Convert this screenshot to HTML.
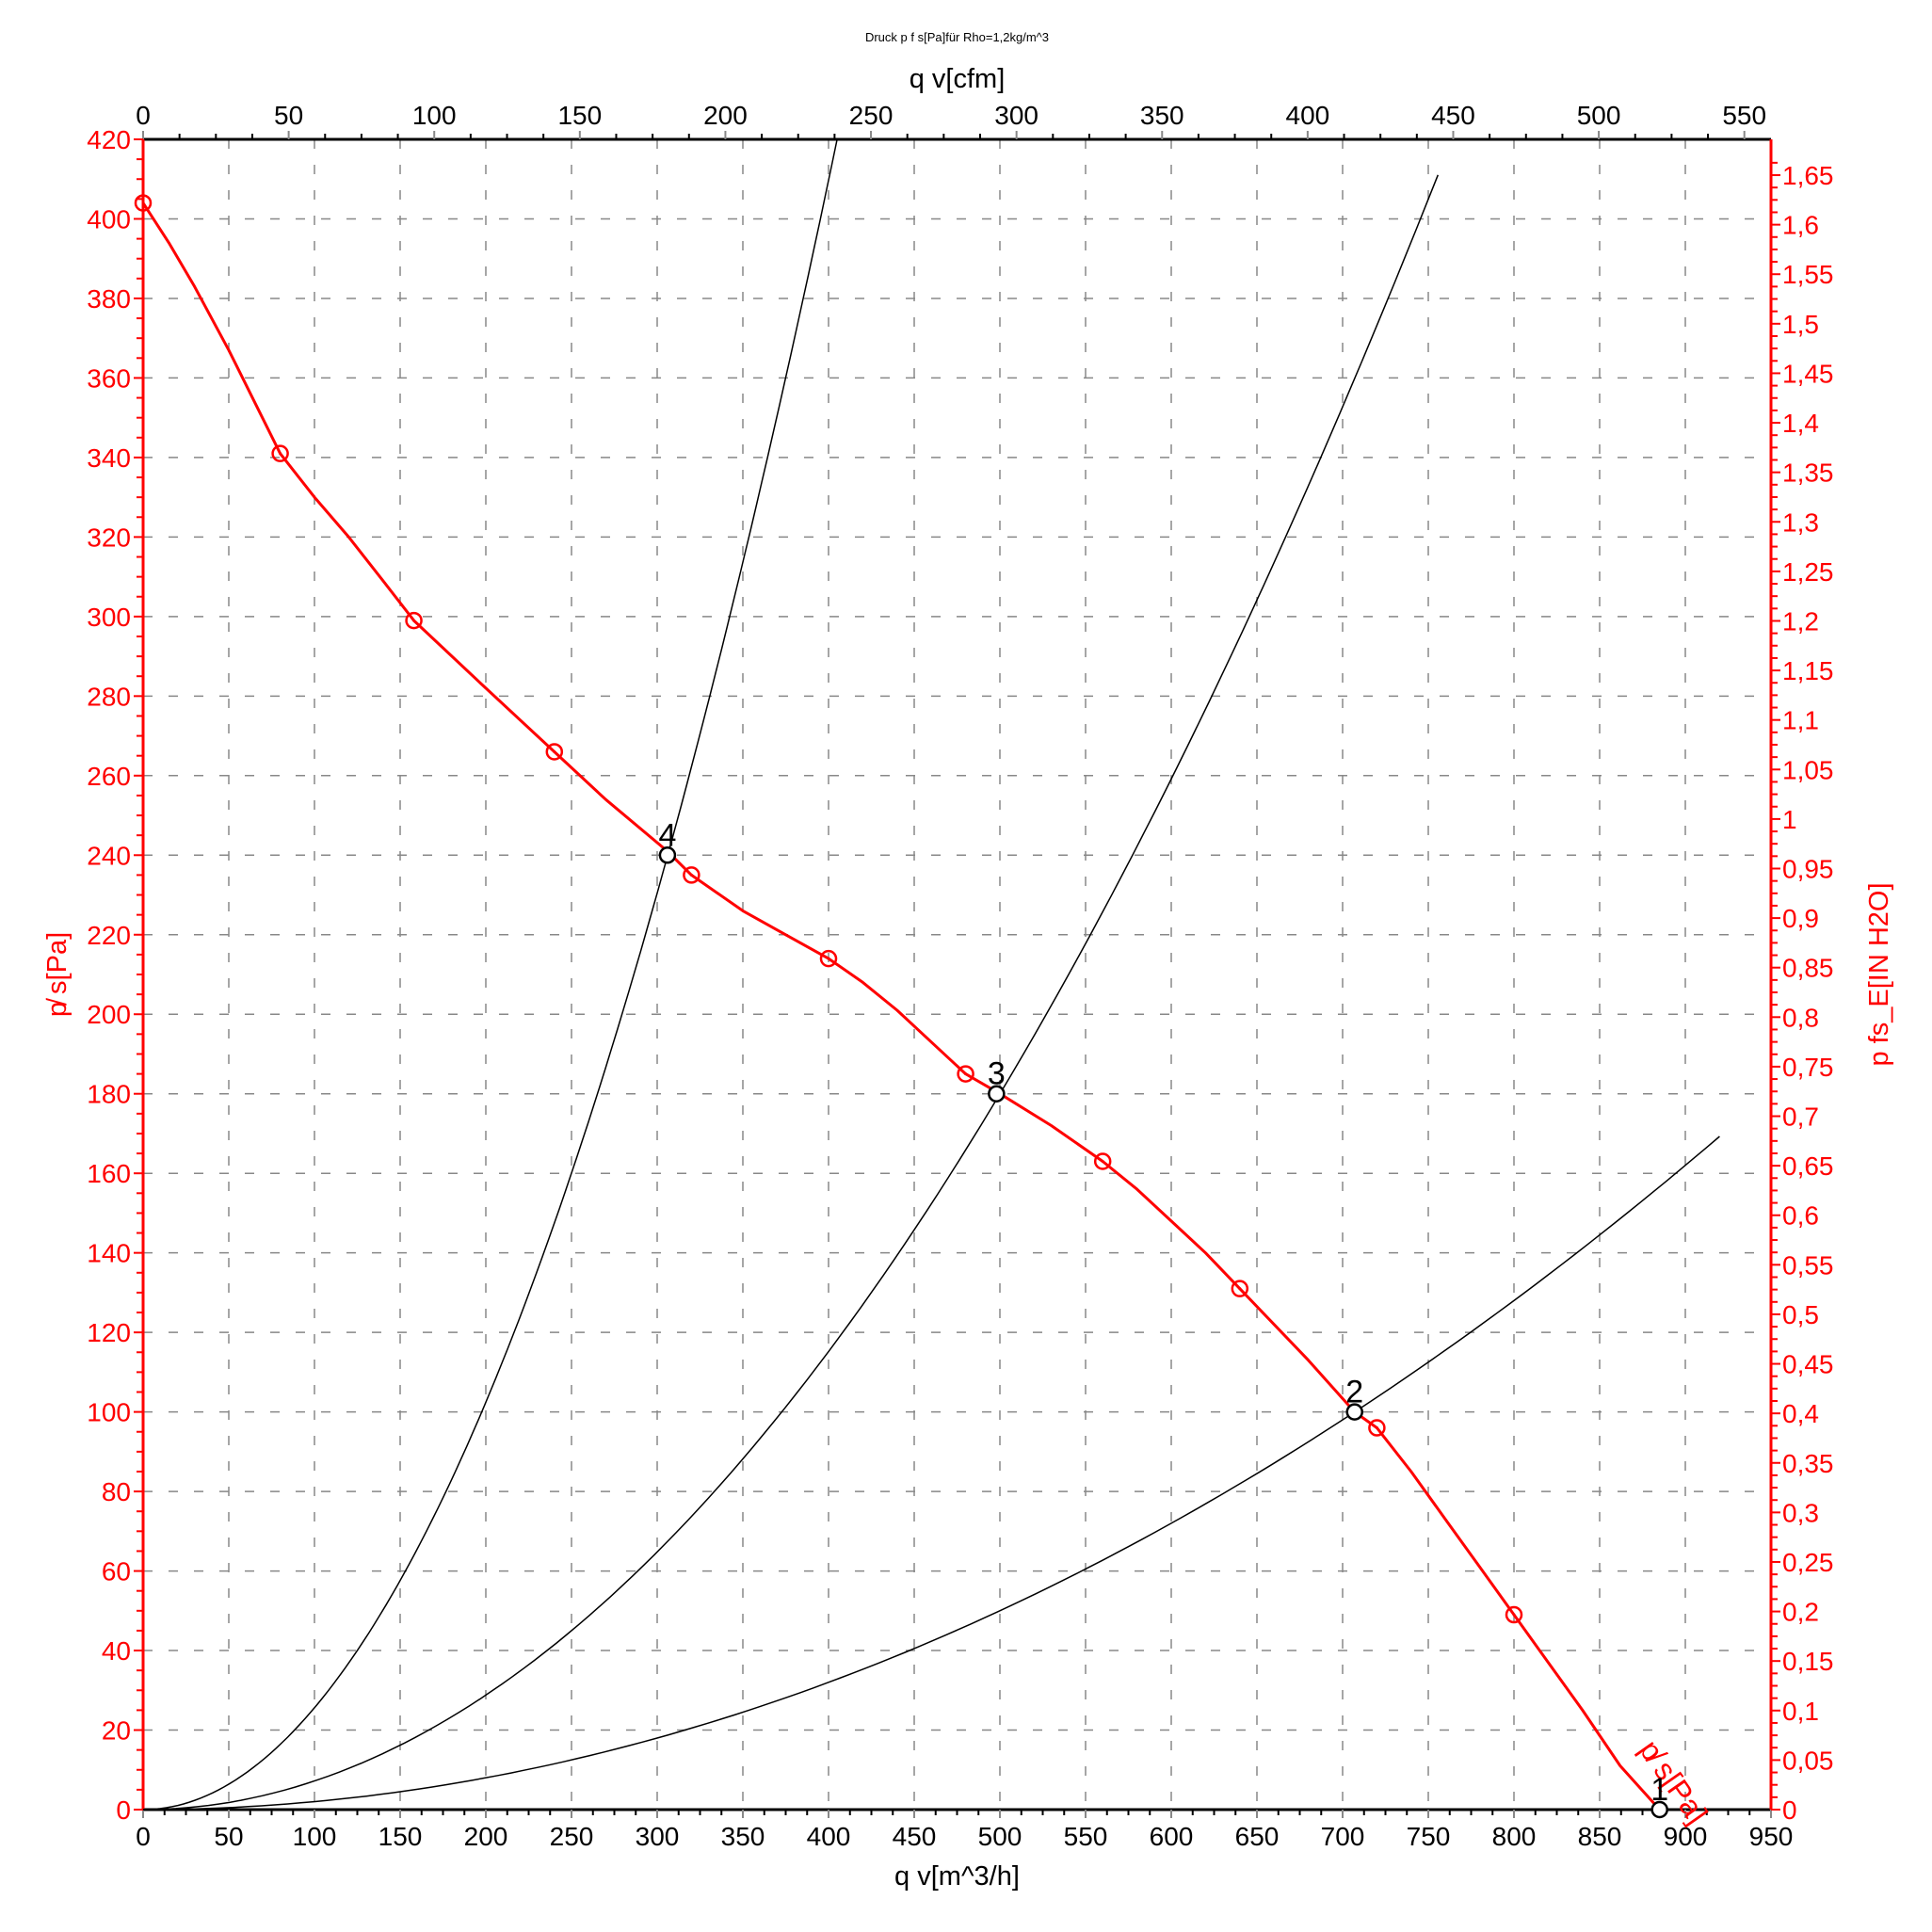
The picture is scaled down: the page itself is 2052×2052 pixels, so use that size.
<!DOCTYPE html>
<html><head><meta charset="utf-8"><style>
html,body{margin:0;padding:0;background:#fff;}
svg{display:block;font-family:"Liberation Sans",sans-serif;}
</style></head><body>
<svg id="s" width="2052" height="2052" viewBox="0 0 2052 2052" xmlns="http://www.w3.org/2000/svg"></svg>
<script>
const L=152,R=1881,T=148,B=1922;
const X=v=>L+v*(R-L)/950, Y=p=>B-p*(B-T)/420;
let o='';
for(let v=50;v<950;v+=50) o+=`<line x1="${X(v)}" y1="${T}" x2="${X(v)}" y2="${B}" stroke="#888" stroke-width="1.5" stroke-dasharray="10,17"/>`;
for(let p=20;p<420;p+=20) o+=`<line x1="${L}" y1="${Y(p)}" x2="${R}" y2="${Y(p)}" stroke="#888" stroke-width="1.5" stroke-dasharray="10,17"/>`;
o+=`<line x1="${L}" y1="${B}" x2="${R}" y2="${B}" stroke="#000" stroke-width="3"/>`;
for(let v=0;v<=950;v+=12.5){const maj=v%50==0;o+=`<line x1="${X(v)}" y1="${B}" x2="${X(v)}" y2="${B+(maj?9:6)}" stroke="${maj?'#888':'#000'}" stroke-width="2"/>`;
 if(maj)o+=`<text x="${X(v)}" y="${B+38}" font-size="28" text-anchor="middle">${v}</text>`;}
o+=`<text x="${X(475)}" y="2002" font-size="29" text-anchor="middle">q v[m^3/h]</text>`;
o+=`<line x1="${L}" y1="${T}" x2="${R}" y2="${T}" stroke="#000" stroke-width="3"/>`;
for(let c=0;c<=560;c+=12.5){const v=c*1.699;if(v>950)break;const maj=c%50==0;o+=`<line x1="${X(v)}" y1="${T}" x2="${X(v)}" y2="${T-(maj?9:6)}" stroke="${maj?'#888':'#000'}" stroke-width="2"/>`;
 if(maj)o+=`<text x="${X(v)}" y="${T-16}" font-size="28" text-anchor="middle">${c}</text>`;}
o+=`<text x="${X(475)}" y="93" font-size="29" text-anchor="middle">q v[cfm]</text>`;
o+=`<text x="${X(475)}" y="44" font-size="13" text-anchor="middle">Druck p f s[Pa]für Rho=1,2kg/m^3</text>`;
o+=`<line x1="${L}" y1="${T}" x2="${L}" y2="${B}" stroke="red" stroke-width="3"/>`;
for(let p=0;p<=420;p+=5){const maj=p%20==0;o+=`<line x1="${L}" y1="${Y(p)}" x2="${L-(maj?10:7)}" y2="${Y(p)}" stroke="red" stroke-width="2"/>`;
 if(maj)o+=`<text x="${L-13}" y="${Y(p)+10}" font-size="28" fill="red" text-anchor="end">${p}</text>`;}
o+=`<text transform="translate(70,1035) rotate(-90)" font-size="29" fill="red" text-anchor="middle">p̸ s[Pa]</text>`;
o+=`<line x1="${R}" y1="${T}" x2="${R}" y2="${B}" stroke="red" stroke-width="3"/>`;
for(let i=0;i<=133;i++){const w=i*0.0125,p=w*249.09;if(p>420)break;const maj=i%4==0;o+=`<line x1="${R}" y1="${Y(p)}" x2="${R+(maj?10:7)}" y2="${Y(p)}" stroke="red" stroke-width="2"/>`;
 if(maj){let s=(Math.round(w*100)/100).toString().replace('.',',');o+=`<text x="${R+12}" y="${Y(p)+10}" font-size="28" fill="red">${s}</text>`;}}
o+=`<text transform="translate(2005,1035) rotate(-90)" font-size="29" fill="red" text-anchor="middle">p fs_E[IN H2O]</text>`;
function para(k,xmax){let pts=[];for(let v=0;v<=xmax;v+=xmax/120){pts.push(X(v).toFixed(1)+','+Y(k*v*v).toFixed(1));}return `<polyline points="${pts.join(' ')}" fill="none" stroke="#000" stroke-width="1.5"/>`;}
o+=para(420/405/405,405);o+=para(418/762/762,762);o+=para(0.0002,920);
const rc=[[0,404],[15,394],[30,383],[50,367],[65,354],[80,341],[100,330],[120,320],[140,309],[158,299],[200,282],[240,266],[270,254],[306,241],[320,235],[350,226],[375,220],[400,214],[420,208],[440,201],[460,193],[480,185],[500,180],[530,172],[560,163],[580,156],[600,148],[620,140],[640,131],[660,122],[680,113],[707,100],[720,96],[740,85],[760,73],[780,61],[800,49],[820,37],[840,25],[862,11],[885,0]];
o+=`<polyline points="${rc.map(p=>X(p[0]).toFixed(1)+','+Y(p[1]).toFixed(1)).join(' ')}" fill="none" stroke="red" stroke-width="3" stroke-linejoin="round"/>`;
[[0,404],[80,341],[158,299],[240,266],[320,235],[400,214],[480,185],[560,163],[640,131],[720,96],[800,49]].forEach(p=>{
 o+=`<circle cx="${X(p[0])}" cy="${Y(p[1])}" r="8" fill="none" stroke="red" stroke-width="2.5"/><circle cx="${X(p[0])}" cy="${Y(p[1])}" r="1.5" fill="red"/>`;});
o+=`<text transform="translate(1740,1858) rotate(55)" font-size="32" fill="red">p̸ s[Pa]</text>`;
[[885,0,'1'],[707,100,'2'],[498,180,'3'],[306,240,'4']].forEach(p=>{
 o+=`<circle cx="${X(p[0])}" cy="${Y(p[1])}" r="8" fill="#fff" stroke="#000" stroke-width="2.5"/>`;
 o+=`<text x="${X(p[0])}" y="${Y(p[1])-10}" font-size="34" text-anchor="middle">${p[2]}</text>`;});
document.getElementById('s').innerHTML=o;
</script>
</body></html>
